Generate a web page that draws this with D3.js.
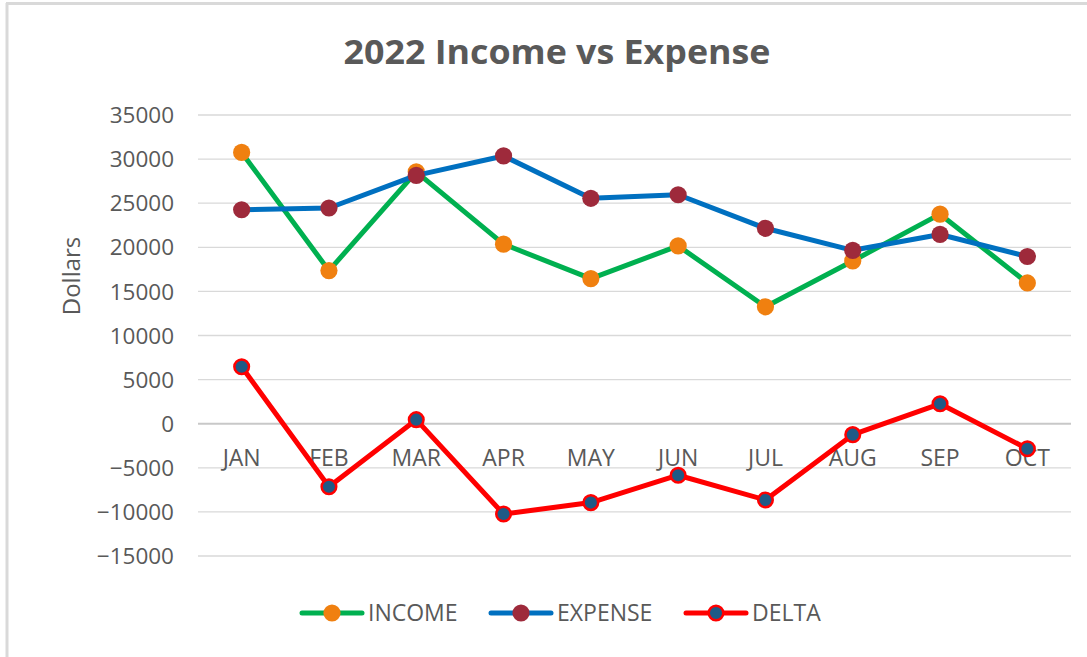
<!DOCTYPE html>
<html><head><meta charset="utf-8">
<script src="https://cdn.jsdelivr.net/npm/d3@7"></script>
<style>
html,body{margin:0;padding:0;background:#fff;}
text{font-family:"Open Sans","Noto Sans",sans-serif;}
</style></head>
<body><svg id="chart" width="1087" height="657"></svg>
<script>
const months = ["JAN","FEB","MAR","APR","MAY","JUN","JUL","AUG","SEP","OCT"];
const income = [30700,17300,28500,20300,16400,20100,13200,18400,23700,15900];
const expense = [24200,24400,28100,30300,25500,25900,22100,19600,21400,18900];
const delta = [6400,-7200,400,-10300,-9000,-5900,-8700,-1300,2200,-2900];
const yTicks = [35000,30000,25000,20000,15000,10000,5000,0,-5000,-10000,-15000];
const seriesNames = ["INCOME","EXPENSE","DELTA"];

const svg = d3.select("#chart");
const W = 1087, H = 657;
svg.append("rect").attr("width",W).attr("height",H).attr("fill","#fff");
// chart border (top & left visible)
svg.append("line").attr("x1",6).attr("x2",W).attr("y1",3.5).attr("y2",3.5).attr("stroke","#d9d9d9").attr("stroke-width",3);
svg.append("line").attr("x1",7).attr("x2",7).attr("y1",3).attr("y2",H).attr("stroke","#d9d9d9").attr("stroke-width",3);

const x = d3.scaleBand().domain(months).range([198,1071]);
const y = d3.scaleLinear().domain([-15000,35000]).range([555.5,114.5]);
const cx = m => x(m) + x.bandwidth()/2;

// gridlines
const grid = svg.append("g").attr("transform","translate(198,0)")
  .call(d3.axisLeft(y).tickValues(yTicks).tickSize(-873).tickFormat(""));
grid.select(".domain").remove();
grid.selectAll(".tick line").attr("stroke","#d9d9d9").attr("stroke-width",1.3);
grid.selectAll(".tick").filter(d=>d===0).select("line").attr("stroke","#c8c8c8").attr("stroke-width",2);

// y labels
const ya = svg.append("g").attr("transform","translate(174,0)")
  .call(d3.axisLeft(y).tickValues(yTicks).tickSize(0).tickPadding(0).tickFormat(d3.format("d")));
ya.select(".domain").remove();
ya.selectAll("text").attr("fill","#595959").style("font-size","22.5px").attr("dy","0.36em");

// x labels
const xa = svg.append("g").attr("transform","translate(0,450)")
  .call(d3.axisBottom(x).tickSize(0).tickPadding(0));
xa.select(".domain").remove();
xa.selectAll("text").attr("fill","#595959").style("font-size","23px").attr("dy","0.71em");

// title
svg.append("text").attr("x",557).attr("y",64).attr("text-anchor","middle")
  .attr("fill","#595959").style("font-size","34px").style("font-weight","700")
  .attr("textLength",427).attr("lengthAdjust","spacingAndGlyphs")
  .text("2022 Income vs Expense");

// y axis title
svg.append("text").attr("transform","translate(80,276) rotate(-90)").attr("text-anchor","middle")
  .attr("fill","#595959").style("font-size","24px").text("Dollars");

const styles = {
  INCOME:{line:"#00b050", fill:"#f08010", stroke:"#f08010", sw:0, data:income},
  EXPENSE:{line:"#0070c0", fill:"#9e2a3b", stroke:"#9e2a3b", sw:0, data:expense},
  DELTA:{line:"#ff0000", fill:"#1f5a86", stroke:"#ff0000", sw:2.5, data:delta}
};
const lineGen = d3.line().x((d,i)=>cx(months[i])).y(d=>y(d));
seriesNames.forEach(name=>{
  const s = styles[name];
  const g = svg.append("g");
  g.append("path").datum(s.data).attr("d",lineGen).attr("fill","none")
    .attr("stroke",s.line).attr("stroke-width",5).attr("stroke-linejoin","round").attr("stroke-linecap","round");
  g.selectAll("circle").data(s.data).join("circle")
    .attr("cx",(d,i)=>cx(months[i])).attr("cy",d=>y(d))
    .attr("r", s.sw ? 7.3 : 8.6).attr("fill",s.fill)
    .attr("stroke",s.sw?s.stroke:"none").attr("stroke-width",s.sw);
});

// legend
const legX = [302, 491, 686];
seriesNames.forEach((name,i)=>{
  const s = styles[name];
  const g = svg.append("g").attr("transform",`translate(${legX[i]},613)`);
  g.append("line").attr("x1",0).attr("x2",60).attr("stroke",s.line).attr("stroke-width",5).attr("stroke-linecap","round");
  g.append("circle").attr("cx",30).attr("r",s.sw?7.3:8.6).attr("fill",s.fill)
    .attr("stroke",s.sw?s.stroke:"none").attr("stroke-width",s.sw);
  g.append("text").attr("x",66).attr("dy","0.36em").attr("fill","#595959").style("font-size","23px").text(name);
});
</script></body></html>
